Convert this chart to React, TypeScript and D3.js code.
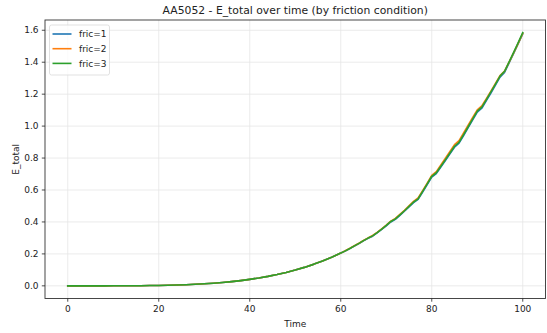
import React from "react";
import * as d3 from "d3";

const title = "AA5052 - E_total over time (by friction condition)";
const xLabel = "Time";
const yLabel = "E_total";
const seriesNames = ["fric=1", "fric=2", "fric=3"];
const seriesColors = ["#1f77b4", "#ff7f0e", "#2ca02c"];
const xTicks = [0, 20, 40, 60, 80, 100];
const yTicks = [0, 0.2, 0.4, 0.6, 0.8, 1.0, 1.2, 1.4, 1.6];

const times = [
  0, 2, 4, 6, 8, 10, 12, 14, 16, 18, 20, 22, 24, 26, 28, 30, 32, 34, 36, 38, 40,
  42, 44, 46, 48, 50, 52, 54, 56, 58, 60,
  61, 62, 63, 64, 65, 66, 67, 68, 69, 70, 71, 72, 73, 74, 75, 76, 77, 78, 79, 80,
  81, 82, 83, 84, 85, 86, 87, 88, 89, 90, 91, 92, 93, 94, 95, 96, 97, 98, 99, 100,
];

const fric1 = [
  0, 0, 0, 0, 0.0001, 0.0002, 0.0003, 0.0006, 0.001, 0.0017, 0.0025, 0.0037, 0.0052,
  0.0072, 0.0097, 0.0128, 0.0166, 0.0211, 0.0265, 0.0329, 0.0404, 0.0491, 0.0592,
  0.0707, 0.0838, 0.0987, 0.1155, 0.1344, 0.1555, 0.179, 0.205,
  0.218, 0.233, 0.249, 0.265, 0.282, 0.297, 0.311, 0.331, 0.353, 0.376,
  0.4, 0.416, 0.441, 0.467, 0.494, 0.521, 0.541, 0.587, 0.634, 0.681,
  0.703, 0.744, 0.785, 0.827, 0.868, 0.893, 0.941, 0.99, 1.039, 1.087,
  1.112, 1.159, 1.207, 1.256, 1.306, 1.336, 1.395, 1.455, 1.516, 1.578,
];

const fric2 = [
  0, 0, 0, 0, 0.0001, 0.0002, 0.0003, 0.0006, 0.001, 0.0017, 0.0025, 0.0037, 0.0052,
  0.0072, 0.0097, 0.0128, 0.0166, 0.0211, 0.0265, 0.0329, 0.0404, 0.0491, 0.0592,
  0.0707, 0.0838, 0.0987, 0.1155, 0.1344, 0.1555, 0.179, 0.205,
  0.22, 0.235, 0.251, 0.267, 0.284, 0.3, 0.315, 0.335, 0.357, 0.38,
  0.405, 0.422, 0.447, 0.473, 0.501, 0.529, 0.55, 0.596, 0.643, 0.692,
  0.715, 0.757, 0.799, 0.842, 0.884, 0.909, 0.957, 1.006, 1.054, 1.102,
  1.126, 1.172, 1.219, 1.267, 1.316, 1.344, 1.4, 1.458, 1.518, 1.58,
];

const fric3 = [
  0, 0, 0, 0, 0.0001, 0.0002, 0.0003, 0.0006, 0.001, 0.0017, 0.0025, 0.0037, 0.0052,
  0.0072, 0.0097, 0.0128, 0.0166, 0.0211, 0.0265, 0.0329, 0.0404, 0.0491, 0.0592,
  0.0707, 0.0838, 0.0987, 0.1155, 0.1344, 0.1555, 0.179, 0.205,
  0.219, 0.234, 0.25, 0.266, 0.283, 0.299, 0.313, 0.333, 0.355, 0.378,
  0.403, 0.419, 0.444, 0.47, 0.497, 0.525, 0.545, 0.591, 0.638, 0.686,
  0.708, 0.749, 0.79, 0.832, 0.874, 0.899, 0.947, 0.996, 1.045, 1.094,
  1.119, 1.166, 1.214, 1.263, 1.313, 1.343, 1.402, 1.462, 1.523, 1.585,
];

const allSeries = [fric1, fric2, fric3];

const W = 547;
const H = 333;
const left = 45;
const right = 545.5;
const top = 20;
const bottom = 298.5;
const font = "DejaVu Sans, sans-serif";

export default function App() {
  const xMin = d3.min(times)!;
  const xMax = d3.max(times)!;
  const xPad = (xMax - xMin) * 0.05;
  const yMin = d3.min(allSeries.flat())!;
  const yMax = d3.max(allSeries.flat())!;
  const yPad = (yMax - yMin) * 0.05;

  const x = d3.scaleLinear().domain([xMin - xPad, xMax + xPad]).range([left, right]);
  const y = d3.scaleLinear().domain([yMin - yPad, yMax + yPad]).range([bottom, top]);

  const line = d3
    .line<number>()
    .x((_, i) => x(times[i]))
    .y((d) => y(d));

  const tickColor = "#222";
  const gridColor = "#e6e6e6";

  return (
    <svg
      width={W}
      height={H}
      style={{ position: "absolute", left: 0, top: 0, background: "#fff" }}
      fontFamily={font}
    >
      <rect x={0} y={0} width={W} height={H} fill="#fff" />
      {xTicks.map((t) => (
        <line key={"gx" + t} x1={x(t)} x2={x(t)} y1={top} y2={bottom} stroke={gridColor} strokeWidth={0.8} />
      ))}
      {yTicks.map((t) => (
        <line key={"gy" + t} x1={left} x2={right} y1={y(t)} y2={y(t)} stroke={gridColor} strokeWidth={0.8} />
      ))}
      {allSeries.map((s, i) => (
        <path
          key={"s" + i}
          d={line(s) || ""}
          fill="none"
          stroke={seriesColors[i]}
          strokeWidth={1.6}
          strokeLinejoin="round"
          strokeLinecap="square"
        />
      ))}
      <rect x={left} y={top} width={right - left} height={bottom - top} fill="none" stroke="#333" strokeWidth={0.9} />
      {xTicks.map((t) => (
        <g key={"xt" + t}>
          <line x1={x(t)} x2={x(t)} y1={bottom} y2={bottom + 3.2} stroke={tickColor} strokeWidth={0.8} />
          <text x={x(t)} y={bottom + 13.5} fontSize={9} textAnchor="middle" fill="#222">
            {d3.format("d")(t)}
          </text>
        </g>
      ))}
      {yTicks.map((t) => (
        <g key={"yt" + t}>
          <line x1={left - 3.2} x2={left} y1={y(t)} y2={y(t)} stroke={tickColor} strokeWidth={0.8} />
          <text x={left - 6.5} y={y(t) + 3.2} fontSize={9} textAnchor="end" fill="#222">
            {d3.format(".1f")(t)}
          </text>
        </g>
      ))}
      <text x={(left + right) / 2} y={327} fontSize={9} textAnchor="middle" fill="#222">
        {xLabel}
      </text>
      <text
        transform={`translate(${19},${(top + bottom) / 2}) rotate(-90)`}
        fontSize={9}
        textAnchor="middle"
        fill="#222"
      >
        {yLabel}
      </text>
      <text x={(left + right) / 2} y={14} fontSize={10.8} textAnchor="middle" fill="#222">
        {title}
      </text>
      <rect x={49.5} y={25} width={60} height={50} rx={2} fill="#fff" fillOpacity={0.8} stroke="#d9d9d9" strokeWidth={0.8} />
      {seriesNames.map((n, i) => (
        <g key={"lg" + i}>
          <line x1={52.5} x2={71.5} y1={34 + i * 14.7} y2={34 + i * 14.7} stroke={seriesColors[i]} strokeWidth={1.6} />
          <text x={79} y={34 + i * 14.7 + 3.2} fontSize={9} fill="#222">
            {n}
          </text>
        </g>
      ))}
    </svg>
  );
}
